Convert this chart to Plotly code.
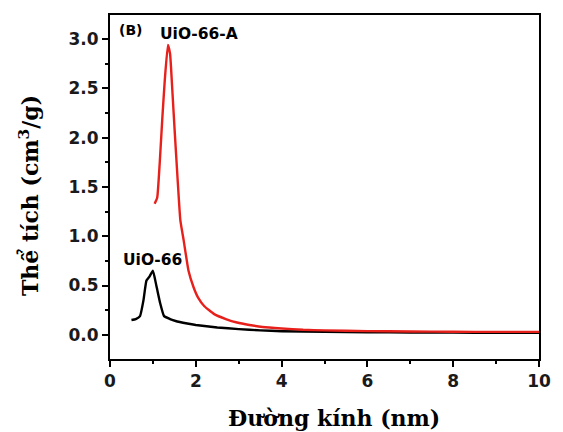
import plotly.graph_objects as go

# UiO-66 (black)
x_uio = [0.5, 0.6, 0.7, 0.78, 0.85, 0.92, 1.0, 1.08, 1.17, 1.26, 1.4, 1.53, 1.8, 2.0, 2.5, 3.0, 3.5, 4.0, 5.0, 6.0, 7.0, 8.0, 9.0, 10.0]
y_uio = [0.15, 0.16, 0.19, 0.35, 0.55, 0.59, 0.65, 0.5, 0.32, 0.19, 0.16, 0.14, 0.115, 0.1, 0.075, 0.058, 0.045, 0.037, 0.03, 0.026, 0.024, 0.022, 0.021, 0.02]

# UiO-66-A (red)
x_uioa = [1.04, 1.1, 1.16, 1.22, 1.28, 1.35, 1.4, 1.45, 1.51, 1.58, 1.64, 1.72, 1.83, 1.95, 2.05, 2.2, 2.43, 2.7, 2.96, 3.25, 3.56, 4.0, 4.5, 5.0, 6.0, 7.0, 8.0, 9.0, 10.0]
y_uioa = [1.33, 1.39, 1.75, 2.2, 2.6, 2.94, 2.85, 2.5, 2.05, 1.55, 1.16, 0.95, 0.65, 0.48, 0.38, 0.29, 0.21, 0.16, 0.125, 0.1, 0.08, 0.065, 0.052, 0.045, 0.038, 0.034, 0.031, 0.03, 0.03]

x_ticks = [0, 2, 4, 6, 8, 10]
y_ticks = [0.0, 0.5, 1.0, 1.5, 2.0, 2.5, 3.0]

fig = go.Figure()
fig.add_trace(go.Scatter(x=x_uio, y=y_uio, mode="lines", line=dict(color="black", width=2.4, shape="spline", smoothing=0.4), showlegend=False))
fig.add_trace(go.Scatter(x=x_uioa, y=y_uioa, mode="lines", line=dict(color="#e8201c", width=2.4, shape="spline", smoothing=0.4), showlegend=False))

tickfont = dict(family="DejaVu Sans, sans-serif", size=17, color="#1a1a1a")
fig.update_xaxes(range=[0, 10], tickvals=x_ticks, ticktext=[f"<b>{v}</b>" for v in x_ticks],
                 showline=True, linecolor="black", linewidth=2, mirror=True,
                 ticks="outside", ticklen=6, tickwidth=2, tickcolor="black",
                 minor=dict(ticks="outside", ticklen=3, tickwidth=2, dtick=1, tickcolor="black"),
                 showgrid=False, zeroline=False, tickfont=tickfont)
fig.update_yaxes(range=[-0.245, 3.243], tickvals=y_ticks, ticktext=[f"<b>{v:.1f}</b>" for v in y_ticks],
                 showline=True, linecolor="black", linewidth=2, mirror=True,
                 ticks="outside", ticklen=6, tickwidth=2, tickcolor="black",
                 minor=dict(ticks="outside", ticklen=3, tickwidth=2, dtick=0.25, tick0=0, tickcolor="black"),
                 showgrid=False, zeroline=False, tickfont=tickfont)

titlefont = dict(family="DejaVu Serif, serif", size=22, color="black")
annfont = dict(family="DejaVu Sans, sans-serif", size=15.5, color="black")
fig.add_annotation(text="<b>Đường kính (nm)</b>", xref="paper", yref="paper", x=0.522, y=-0.172, yanchor="middle", showarrow=False, font=titlefont)
fig.add_annotation(text="<b>Thể tích (cm<sup>3</sup>/g)</b>", xref="paper", yref="paper", x=-0.19, y=0.475, textangle=-90, xanchor="center", yanchor="middle", showarrow=False, font=titlefont)
fig.add_annotation(text="<b>UiO-66-A</b>", x=2.08, y=3.05, showarrow=False, xanchor="center", yanchor="middle", font=annfont)
fig.add_annotation(text="<b>UiO-66</b>", x=0.98, y=0.755, showarrow=False, xanchor="center", yanchor="middle", font=annfont)
fig.add_annotation(text="<b>(B)</b>", x=0.48, y=3.09, showarrow=False, xanchor="center", yanchor="middle", font=dict(family="DejaVu Sans, sans-serif", size=14, color="black"))

fig.update_layout(width=563, height=432, margin=dict(l=110, r=12, t=15, b=73),
                  plot_bgcolor="white", paper_bgcolor="white")
fig.write_html("out.html")
